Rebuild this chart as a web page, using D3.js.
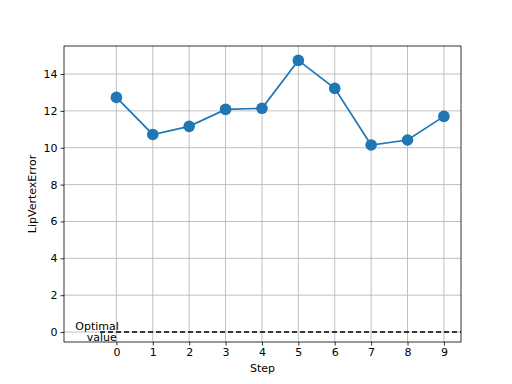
<!DOCTYPE html>
<html>
<head>
<meta charset="utf-8">
<script src="https://cdn.jsdelivr.net/npm/d3@7"></script>
<style>
  body { margin: 0; background: #fff; }
  text { font-family: "DejaVu Sans", sans-serif; }
</style>
</head>
<body>
<div id="chart"></div>
<script>
const steps = [0, 1, 2, 3, 4, 5, 6, 7, 8, 9];
const errors = [12.73, 10.72, 11.16, 12.08, 12.14, 14.74, 13.22, 10.15, 10.42, 11.7];
const yTicks = [0, 2, 4, 6, 8, 10, 12, 14];
const optimalValue = 0;

const width = 512, height = 384;
const margin = { left: 64, right: 51, top: 46, bottom: 42 };

const svg = d3.select('#chart').append('svg')
  .attr('width', width)
  .attr('height', height);

const x = d3.scaleLinear().domain([-1.44, 9.47]).range([margin.left, width - margin.right]);
const y = d3.scaleLinear().domain([-0.54, 15.52]).range([height - margin.bottom, margin.top]);

// grid
svg.append('g').selectAll('line').data(steps).enter().append('line')
  .attr('x1', d => x(d)).attr('x2', d => x(d))
  .attr('y1', margin.top).attr('y2', height - margin.bottom)
  .attr('stroke', '#b0b0b0').attr('stroke-width', 0.8);
svg.append('g').selectAll('line').data(yTicks).enter().append('line')
  .attr('x1', margin.left).attr('x2', width - margin.right)
  .attr('y1', d => y(d)).attr('y2', d => y(d))
  .attr('stroke', '#b0b0b0').attr('stroke-width', 0.8);

// optimal value line
svg.append('line')
  .attr('x1', x(-0.45)).attr('x2', x(9.47))
  .attr('y1', y(optimalValue)).attr('y2', y(optimalValue))
  .attr('stroke', '#000').attr('stroke-width', 1.5)
  .attr('stroke-dasharray', '5,3');

svg.append('text')
  .attr('x', x(-0.53)).attr('y', y(optimalValue) - 2)
  .attr('text-anchor', 'middle')
  .style('font-size', '11px')
  .text('Optimal');
svg.append('text')
  .attr('x', x(-0.4)).attr('y', y(optimalValue) + 9)
  .attr('text-anchor', 'middle')
  .style('font-size', '11px')
  .text('value');

// series
const line = d3.line().x((d, i) => x(steps[i])).y(d => y(d));
svg.append('path')
  .datum(errors)
  .attr('d', line)
  .attr('fill', 'none')
  .attr('stroke', '#1f77b4')
  .attr('stroke-width', 1.7);
svg.append('g').selectAll('circle').data(errors).enter().append('circle')
  .attr('cx', (d, i) => x(steps[i]))
  .attr('cy', d => y(d))
  .attr('r', 5.8)
  .attr('fill', '#1f77b4');

// axes
const xAxis = svg.append('g')
  .attr('transform', `translate(0,${height - margin.bottom})`)
  .call(d3.axisBottom(x).tickValues(steps).tickSize(3.5).tickPadding(3));
const yAxis = svg.append('g')
  .attr('transform', `translate(${margin.left},0)`)
  .call(d3.axisLeft(y).tickValues(yTicks).tickSize(3.5).tickPadding(3));
[xAxis, yAxis].forEach(a => {
  a.select('.domain').remove();
  a.selectAll('text').style('font-size', '11px').attr('fill', '#000').style('font-family', '"DejaVu Sans", sans-serif');
  a.selectAll('line').attr('stroke', '#000').attr('stroke-width', 0.8);
});

svg.append('rect')
  .attr('x', margin.left).attr('y', margin.top)
  .attr('width', width - margin.left - margin.right)
  .attr('height', height - margin.top - margin.bottom)
  .attr('fill', 'none').attr('stroke', '#000').attr('stroke-width', 0.8);

svg.append('text')
  .attr('x', (margin.left + width - margin.right) / 2)
  .attr('y', 372)
  .attr('text-anchor', 'middle')
  .style('font-size', '11px')
  .text('Step');
svg.append('text')
  .attr('transform', `translate(36,${(margin.top + height - margin.bottom) / 2}) rotate(-90)`)
  .attr('text-anchor', 'middle')
  .style('font-size', '11px')
  .text('LipVertexError');
</script>
</body>
</html>
